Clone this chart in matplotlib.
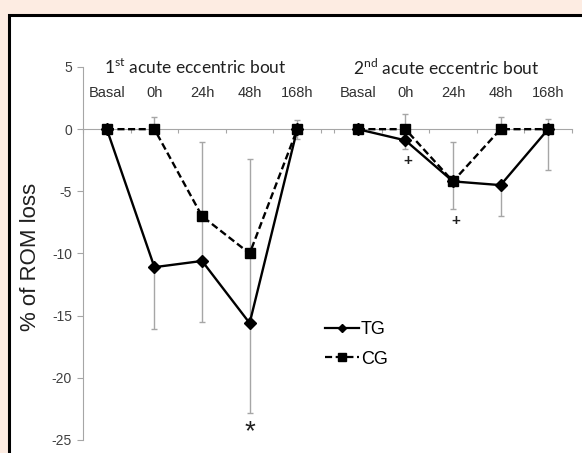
import matplotlib.pyplot as plt
from matplotlib.patches import Rectangle
from matplotlib.lines import Line2D
import numpy as np

plt.rcParams['font.family'] = ['Liberation Sans', 'DejaVu Sans']
plt.rcParams['mathtext.fontset'] = 'custom'
plt.rcParams['mathtext.rm'] = 'Lato'
plt.rcParams['axes.unicode_minus'] = False

# categories of each bout
cats = ['Basal', '0h', '24h', '48h', '168h']
titles = [r'1$^{\rm st}$ acute eccentric bout', r'2$^{\rm nd}$ acute eccentric bout']

# % ROM loss, first bout
tg1 = [0, -11.1, -10.6, -15.6, 0]
tg1_lo = [0, 5.0, 4.9, 7.2, 0.8]
tg1_hi = [0, 0, 3.6, 5.6, 0]
cg1 = [0, 0, -7.0, -10.0, 0]
cg1_hi = [0, 1.0, 6.0, 7.6, 0.7]

# % ROM loss, second bout
tg2 = [0, -0.9, -4.2, -4.5, 0]
tg2_lo = [0, 0.7, 2.2, 2.5, 3.3]
tg2_hi = [0, 0, 0, 0, 0]
cg2 = [0, 0, -4.2, 0, 0]
cg2_hi = [0, 1.25, 3.2, 1.0, 0.8]

# significance marks: (bout, category index, y value, symbol)
marks = [(0, 3, -24.4, '*'), (1, 1, -2.6, '+'), (1, 2, -7.4, '+')]

gap = 0.27
offsets = [0, len(cats) + gap]
grey = '#a6a6a6'

fig = plt.figure(figsize=(5.82, 4.53), dpi=100, facecolor='#fdece2')
fig.add_artist(Rectangle((9 / 582, -0.1), 1.2, 1.1 - 15 / 453, transform=fig.transFigure,
                         facecolor='white', edgecolor='black', linewidth=2.2, zorder=0))

ax = fig.add_axes([83 / 582, 13 / 453, 489 / 582, 373 / 453])
ax.set_facecolor('none')

bouts = [(tg1, tg1_lo, tg1_hi, cg1, cg1_hi), (tg2, tg2_lo, tg2_hi, cg2, cg2_hi)]
for off, (tg, tlo, thi, cg, chi) in zip(offsets, bouts):
    x = np.arange(len(cats)) + off
    ax.errorbar(x, tg, yerr=[tlo, thi], fmt='none', ecolor=grey, elinewidth=1, capsize=2.5, zorder=2)
    ax.errorbar(x, cg, yerr=[np.zeros(len(cg)), chi], fmt='none', ecolor=grey, elinewidth=1,
                capsize=2.5, zorder=2)
    ax.plot(x, cg, color='black', lw=1.7, ls=(0, (3.0, 1.5)), marker='s', ms=7, zorder=3)
    ax.plot(x, tg, color='black', lw=1.7, marker='D', ms=6.3, zorder=4)
    for i, c in enumerate(cats):
        ax.text(x[i], 2.9, c, ha='center', va='center', fontsize=10.5, color='#303030')

for off, t in zip(offsets, titles):
    ax.text(off + 1.86, 4.95, t, ha='center', va='center', fontsize=12.5, family='Lato', color='#202020')

for b, i, y, s in marks:
    if s == '*':
        ax.text(offsets[b] + i, y, s, ha='center', va='center', fontsize=20, color='#202020')
    else:
        ax.text(offsets[b] + i + 0.05, y, s, ha='center', va='center', fontsize=11,
                fontweight='bold', color='#202020')

ax.set_xlim(-0.5, offsets[1] + len(cats) - 0.5)
ax.set_ylim(-25, 5)
ax.set_yticks(np.arange(-25, 6, 5))
bounds = np.concatenate([np.arange(len(cats) + 1) - 0.5 + o for o in offsets])
ax.set_xticks(bounds)
ax.set_xticklabels([])
for side in ['top', 'right']:
    ax.spines[side].set_visible(False)
ax.spines['left'].set_color(grey)
ax.spines['bottom'].set_color(grey)
ax.spines['bottom'].set_position(('data', 0))
ax.tick_params(axis='y', colors=grey, labelcolor='#404040', labelsize=10, length=4, width=0.8, pad=4)
ax.tick_params(axis='x', colors=grey, length=3, width=0.8, direction='out')
ax.set_ylabel('% of ROM loss', fontsize=16, color='#202020', va='center')
ax.yaxis.set_label_coords(-0.108, 0.49)

handles = [Line2D([], [], color='black', lw=1.6, marker='D', ms=4.5),
           Line2D([], [], color='black', lw=1.6, ls=(0, (3.2, 1.6)), marker='s', ms=6)]
ax.legend(handles, ['TG', 'CG'], loc='upper left', bbox_to_anchor=(325 / 582, 1 - 321 / 453),
          bbox_transform=fig.transFigure, frameon=False, fontsize=13, handlelength=1.9,
          handletextpad=0.1, labelspacing=0.7, borderpad=0, borderaxespad=0)

fig.savefig('out.png', dpi=100, facecolor=fig.get_facecolor())
